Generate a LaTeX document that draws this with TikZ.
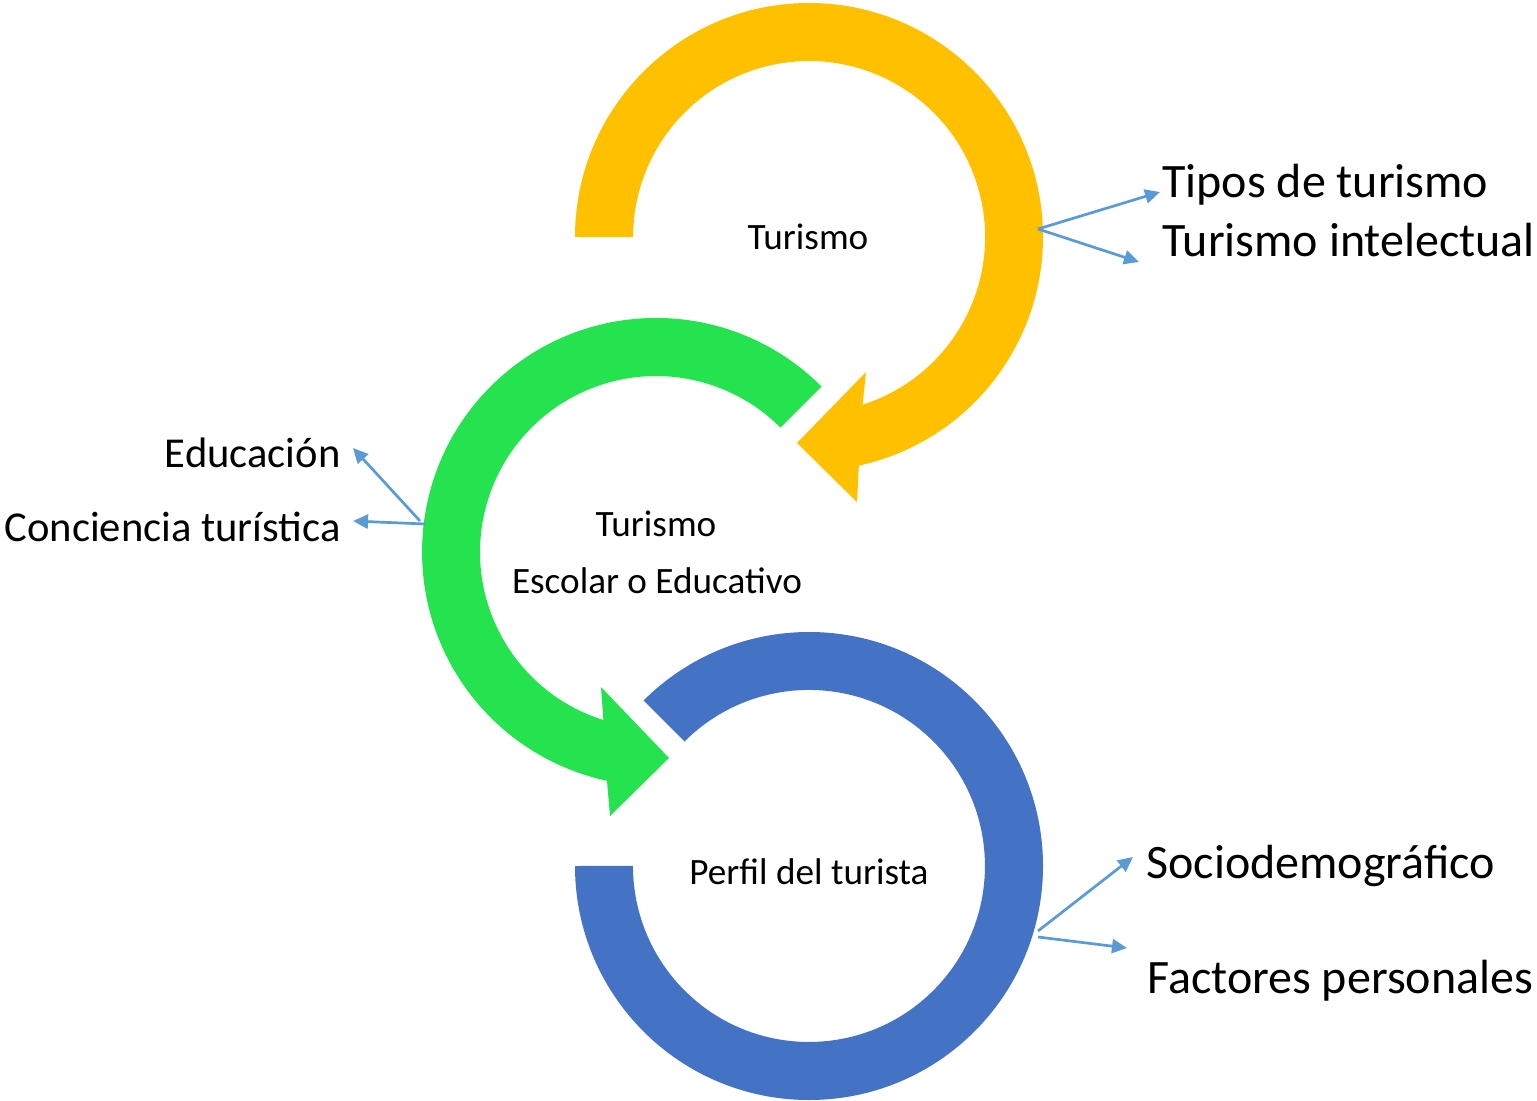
\documentclass[tikz,border=0pt]{standalone}
\usepackage{fontspec}
\setmainfont{Carlito}
\usetikzlibrary{arrows.meta,calc}
\definecolor{ringyellow}{HTML}{FFC000}
\definecolor{ringgreen}{HTML}{24E34E}
\definecolor{ringblue}{HTML}{4472C4}
\definecolor{linkblue}{HTML}{5B9BD5}
\tikzset{
  ring/.style={draw=none},
  link/.style={draw=linkblue, line width=1.35pt, -{Triangle[length=7.5pt,width=7pt]}},
  bigtxt/.style={inner sep=0pt, font=\fontsize{24}{28}\selectfont},
  midtxt/.style={inner sep=0pt, font=\fontsize{21.3}{25}\selectfont},
  smalltxt/.style={inner sep=0pt, font=\fontsize{18.6}{22}\selectfont},
}
\begin{document}
\begin{tikzpicture}[x=0.5pt,y=-0.5pt]
\fill[white] (0,0) rectangle (1537,1101);
\useasboundingbox (0,0) rectangle (1537,1101);

% centres
\coordinate (cY) at (809,237);
\coordinate (cG) at (656,552);
\coordinate (cB) at (809,866);

% yellow circular arrow
\fill[ringyellow, ring] (575,237) arc[start angle=180, end angle=-77.7, radius=117pt]
  -- (857,502) -- (797,443) -- (866,372) -- (862.6,404.7)
  arc[start angle=-72.3, end angle=180, radius=88pt] -- cycle;

% green circular arrow
\fill[ringgreen, ring] (821.5,386.5) arc[start angle=45, end angle=257.9, radius=117pt]
  -- (610,816) -- (669,758) -- (601,687) -- (603.4,720)
  arc[start angle=252.6, end angle=45, radius=88pt] -- cycle;

% blue ring
\fill[ringblue, ring] (575,866) arc[start angle=180, end angle=495, radius=117pt]
  -- (684.5,741.5)
  arc[start angle=495, end angle=180, radius=88pt] -- cycle;

% centre labels
\node[smalltxt, anchor=base] (lt) at (808,250) {Turismo};
\node[smalltxt, anchor=base] (lg1) at (656,537) {Turismo};
\node[smalltxt, anchor=base] (lg2) at (657,593) {Escolar o Educativo};
\node[smalltxt, anchor=base] (lb) at (809,884) {Perfil del turista};

% side labels
\node[bigtxt, anchor=base west] (tipos) at (1162,198) {Tipos de turismo};
\node[bigtxt, anchor=base west] (intel) at (1162,257) {Turismo intelectual};
\node[midtxt, anchor=base east] (educ) at (341,467) {Educación};
\node[midtxt, anchor=base east] (conc) at (341,541) {Conciencia turística};
\node[bigtxt, anchor=base west] (socio) at (1146,878) {Sociodemográfico};
\node[bigtxt, anchor=base west] (fact) at (1147,993) {Factores personales};

% connector end points
\coordinate (yS) at (1038,229);
\coordinate (yT1) at (1160,192);
\coordinate (yT2) at (1139,262);
\coordinate (gS1) at (420,521);
\coordinate (gS2) at (425,524);
\coordinate (gT1) at (353,448);
\coordinate (gT2) at (353,521);
\coordinate (bS1) at (1038,931);
\coordinate (bS2) at (1038,937);
\coordinate (bT1) at (1133,857);
\coordinate (bT2) at (1127,948);

\draw[link] (yS) -- (yT1);
\draw[link] (yS) -- (yT2);
\draw[link] (gS1) -- (gT1);
\draw[link] (gS2) -- (gT2);
\draw[link] (bS1) -- (bT1);
\draw[link] (bS2) -- (bT2);
\end{tikzpicture}
\end{document}
